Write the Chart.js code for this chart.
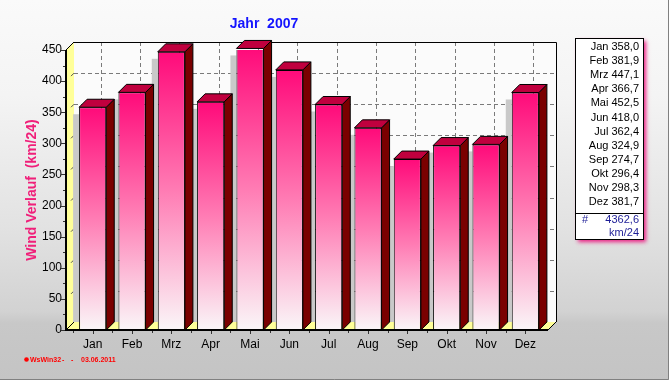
<!DOCTYPE html>
<html>
<head>
<meta charset="utf-8">
<script src="https://cdn.jsdelivr.net/npm/chart.js@4"></script>
<style>
html,body{margin:0;padding:0;background:#fff;}
#wrap{width:669px;height:380px;position:relative;}
canvas{display:block;}
</style>
</head>
<body>
<div id="wrap"><canvas id="c" width="669" height="380"></canvas></div>
<script>
// ---- data ----
const categories = ['Jan','Feb','Mrz','Apr','Mai','Jun','Jul','Aug','Sep','Okt','Nov','Dez'];
const windValues = [358.0, 381.9, 447.1, 366.7, 452.5, 418.0, 362.4, 324.9, 274.7, 296.4, 298.3, 381.7];
const yMin = 0, yMax = 450, yStep = 50;
const chartTitle = 'Jahr  2007';
const yAxisTitle = 'Wind Verlauf  (km/24)';
const totalUnit = 'km/24';
const footerParts = ['WsWin32', '-', '-', '03.06.2011'];

const DX = 8, DY = 8;
const FONT = '"Liberation Sans", Arial, sans-serif';

function fmt(v){ return v.toFixed(1).replace('.', ','); }

const deco = {
  id: 'deco',
  beforeDraw(chart){
    const c = chart.ctx, W = chart.width, H = chart.height;
    c.save();
    const g = c.createLinearGradient(0,0,0,H);
    g.addColorStop(0,'#fafafa');
    g.addColorStop(0.25,'#f4f4f4');
    g.addColorStop(0.6,'#e2e2e2');
    g.addColorStop(0.82,'#d2d2d2');
    g.addColorStop(0.85,'#c8c8c8');
    g.addColorStop(1,'#c4c4c4');
    c.fillStyle = g;
    c.fillRect(0,0,W,H);
    c.strokeStyle = '#808080';
    c.lineWidth = 1;
    c.beginPath();
    c.moveTo(W-0.5,0); c.lineTo(W-0.5,H-0.5); c.lineTo(0,H-0.5);
    c.stroke();
    c.restore();
  },
  beforeDatasetsDraw(chart){
    const c = chart.ctx, ys = chart.scales.y, xs = chart.scales.x;
    const y0 = ys.getPixelForValue(yMin), yT = ys.getPixelForValue(yMax);
    const axL = chart.chartArea.left - 7, axR = chart.chartArea.right + 3;
    c.save();
    // back wall
    c.fillStyle = '#fbfbfb';
    c.fillRect(axL+DX, yT-DY, axR-axL, y0-yT);
    // dashed grid
    c.strokeStyle = '#7a7a7a';
    c.lineWidth = 1;
    c.setLineDash([4,3]);
    for (let v = yMin + yStep; v < yMax; v += yStep){
      const y = Math.round(ys.getPixelForValue(v) - DY) + 0.5;
      c.beginPath(); c.moveTo(axL+DX, y); c.lineTo(axR+DX, y); c.stroke();
    }
    categories.forEach((_, i) => {
      const x = Math.round(xs.getPixelForValue(i) + DX) + 0.5;
      c.beginPath(); c.moveTo(x, yT-DY); c.lineTo(x, y0-DY); c.stroke();
    });
    c.setLineDash([]);
    // back wall border top/right
    c.strokeStyle = '#000';
    c.beginPath();
    c.moveTo(axL+DX, yT-DY+0.5); c.lineTo(axR+DX+0.5, yT-DY+0.5); c.lineTo(axR+DX+0.5, y0-DY);
    c.stroke();
    // left wall
    c.fillStyle = '#ffff99';
    c.beginPath();
    c.moveTo(axL, yT); c.lineTo(axL+DX, yT-DY); c.lineTo(axL+DX, y0-DY); c.lineTo(axL, y0); c.closePath();
    c.fill();
    c.strokeStyle = '#000';
    c.beginPath(); c.moveTo(axL, yT); c.lineTo(axL+DX, yT-DY); c.stroke();
    // small grid marks on left wall
    c.strokeStyle = '#555';
    for (let v = yMin + yStep; v < yMax; v += yStep){
      const y = ys.getPixelForValue(v);
      c.beginPath(); c.moveTo(axL+DX-3, y-DY+3); c.lineTo(axL+DX, y-DY); c.stroke();
    }
    // floor
    c.fillStyle = '#ffff99';
    c.beginPath();
    c.moveTo(axL, y0); c.lineTo(axL+DX, y0-DY); c.lineTo(axR+DX, y0-DY); c.lineTo(axR, y0); c.closePath();
    c.fill();
    c.strokeStyle = '#000';
    c.beginPath(); c.moveTo(axL, y0); c.lineTo(axL+DX, y0-DY); c.stroke();
    // bar shadows on back wall
    const meta = chart.getDatasetMeta(0);
    c.fillStyle = '#c9c9c9';
    meta.data.forEach(el => {
      const l = el.x - el.width/2;
      const st = el.y + 7;
      c.fillRect(l-6, st, 6, (y0-DY) - st);
    });
    c.restore();
  },
  afterDatasetsDraw(chart){
    const c = chart.ctx, ys = chart.scales.y, xs = chart.scales.x;
    const y0 = ys.getPixelForValue(yMin), yT = ys.getPixelForValue(yMax);
    const axL = chart.chartArea.left - 7, axR = chart.chartArea.right + 3;
    const meta = chart.getDatasetMeta(0);
    c.save();
    c.lineWidth = 1;
    c.strokeStyle = '#000';
    meta.data.forEach(el => {
      const l = el.x - el.width/2, r = el.x + el.width/2, t = el.y, b = el.base;
      // side
      c.fillStyle = '#7a0000';
      c.beginPath();
      c.moveTo(r, t); c.lineTo(r+DX, t-DY); c.lineTo(r+DX, b-DY); c.lineTo(r, b); c.closePath();
      c.fill(); c.stroke();
      // top
      c.fillStyle = '#c0003e';
      c.beginPath();
      c.moveTo(l, t); c.lineTo(l+DX, t-DY); c.lineTo(r+DX, t-DY); c.lineTo(r, t); c.closePath();
      c.fill(); c.stroke();
    });
    // axes
    c.lineWidth = 2;
    c.beginPath(); c.moveTo(axL, yT); c.lineTo(axL, y0); c.lineTo(axR, y0); c.stroke();
    c.lineWidth = 1;
    c.beginPath(); c.moveTo(axR, y0); c.lineTo(axR+DX, y0-DY); c.stroke();
    // y ticks
    c.strokeStyle = '#333';
    for (let v = yMin; v <= yMax; v += yStep/2){
      const y = Math.round(ys.getPixelForValue(v)) + 0.5;
      const len = (v % yStep === 0) ? 4 : 2;
      c.beginPath(); c.moveTo(axL-1-len, y); c.lineTo(axL-1, y); c.stroke();
    }
    // x ticks
    categories.forEach((_, i) => {
      const x = Math.round(xs.getPixelForValue(i)) + 0.5;
      c.beginPath(); c.moveTo(x, y0+1); c.lineTo(x, y0+4); c.stroke();
      const xb = Math.round(xs.getPixelForValue(i) - (xs.getPixelForValue(1)-xs.getPixelForValue(0))/2) + 0.5;
      c.beginPath(); c.moveTo(xb, y0+1); c.lineTo(xb, y0+3); c.stroke();
    });
    c.restore();
  },
  afterDraw(chart){
    const c = chart.ctx;
    c.save();
    // title
    c.font = 'bold 14px ' + FONT;
    c.fillStyle = '#1414ff';
    c.textAlign = 'center'; c.textBaseline = 'middle';
    c.fillText(chartTitle, 264, 24);
    // legend box
    const bx = 575, by = 38, bw = 68, bh = 201;
    c.shadowColor = 'rgba(235,20,125,0.95)';
    c.shadowBlur = 4; c.shadowOffsetX = 3; c.shadowOffsetY = 3;
    c.fillStyle = '#fff';
    c.fillRect(bx, by, bw, bh);
    c.shadowColor = 'transparent'; c.shadowBlur = 0; c.shadowOffsetX = 0; c.shadowOffsetY = 0;
    c.strokeStyle = '#000'; c.lineWidth = 1;
    c.strokeRect(bx+0.5, by+0.5, bw, bh);
    c.beginPath(); c.moveTo(bx, 213.5); c.lineTo(bx+bw, 213.5); c.stroke();
    c.font = '11px ' + FONT;
    c.fillStyle = '#000';
    c.textAlign = 'right'; c.textBaseline = 'middle';
    categories.forEach((m, i) => {
      c.fillText(m + ' ' + fmt(windValues[i]), 639, 47 + i*14.1);
    });
    const total = windValues.reduce((a,b)=>a+b,0);
    c.fillStyle = '#1c1c96';
    c.fillText(fmt(total), 639, 220);
    c.fillText(totalUnit, 639, 233);
    c.textAlign = 'left';
    c.fillText('#', 582, 220);
    // footer
    c.fillStyle = '#ff0000'; c.strokeStyle = '#ff0000';
    c.beginPath(); c.arc(26.5, 359.5, 2.3, 0, Math.PI*2); c.fill();
    c.font = 'bold 7px ' + FONT;
    c.textBaseline = 'middle';
    const fx = [30, 62, 71, 81];
    footerParts.forEach((t, i) => c.fillText(t, fx[i], 360));
    c.restore();
  }
};

new Chart(document.getElementById('c'), {
  type: 'bar',
  data: {
    labels: categories,
    datasets: [{
      data: windValues,
      backgroundColor: (ctx) => {
        const chart = ctx.chart;
        if (!chart.chartArea || ctx.type !== 'data') return '#ff0a7a';
        const ys = chart.scales.y;
        const t = ys.getPixelForValue(ctx.raw), b = ys.getPixelForValue(0);
        const g = chart.ctx.createLinearGradient(0, t, 0, b);
        g.addColorStop(0, '#ff0a7a');
        g.addColorStop(0.5, '#ff7cb4');
        g.addColorStop(1, '#faf6f8');
        return g;
      },
      borderColor: '#000',
      borderWidth: 1,
      borderSkipped: false,
      barPercentage: 0.69,
      categoryPercentage: 1.0
    }]
  },
  options: {
    responsive: false,
    animation: false,
    devicePixelRatio: 1,
    layout: { padding: { left: 0, top: 50, right: 124, bottom: 0 } },
    plugins: { legend: { display: false }, tooltip: { enabled: false }, title: { display: false } },
    scales: {
      x: {
        grid: { display: false, drawTicks: false },
        border: { display: false },
        ticks: { color: '#000', font: { family: FONT, size: 12 }, padding: 7, maxRotation: 0 },
        afterFit: (s) => { s.height = 50; }
      },
      y: {
        min: yMin, max: yMax,
        grid: { display: false, drawTicks: false },
        border: { display: false },
        ticks: { stepSize: yStep, color: '#000', font: { family: FONT, size: 12 }, padding: 11 },
        title: { display: true, text: yAxisTitle, color: '#f0207a', font: { family: FONT, size: 14, weight: 'bold' }, padding: { top: 24, bottom: 0 } },
        afterFit: (s) => { s.width = 73; }
      }
    }
  },
  plugins: [deco]
});
</script>
</body>
</html>
